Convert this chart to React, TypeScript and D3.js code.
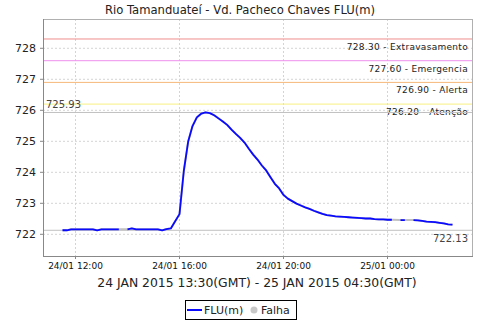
import React from "react";
import * as d3 from "d3";

const title = "Rio Tamanduateí - Vd. Pacheco Chaves FLU(m)";
const xTitle = "24 JAN 2015 13:30(GMT) - 25 JAN 2015 04:30(GMT)";

const times = [
  "24 11:30","24 11:40","24 11:50","24 12:00","24 12:10","24 12:20","24 12:30","24 12:40","24 12:50",
  "24 13:00","24 13:10","24 13:20","24 13:30","24 13:40","24 13:50","24 14:00","24 14:10","24 14:20",
  "24 14:30","24 14:40","24 14:50","24 15:00","24 15:10","24 15:20","24 15:30","24 15:40","24 15:50",
  "24 16:00","24 16:10","24 16:20","24 16:30","24 16:40","24 16:50","24 17:00","24 17:10","24 17:20",
  "24 17:30","24 17:40","24 17:50","24 18:00","24 18:10","24 18:20","24 18:30","24 18:40","24 18:50",
  "24 19:00","24 19:10","24 19:20","24 19:30","24 19:40","24 19:50","24 20:00","24 20:10","24 20:20",
  "24 20:30","24 20:40","24 20:50","24 21:00","24 21:10","24 21:20","24 21:30","24 21:40","24 21:50",
  "24 22:00","24 22:10","24 22:20","24 22:30","24 22:40","24 22:50","24 23:00","24 23:10","24 23:20",
  "24 23:30","24 23:40","24 23:50","25 00:00","25 00:10","25 00:20","25 00:30","25 00:40","25 00:50",
  "25 01:00","25 01:10","25 01:20","25 01:30","25 01:40","25 01:50","25 02:00","25 02:10","25 02:20",
  "25 02:30",
];

const levels: (number | null)[] = [
  722.13, 722.13, 722.16, 722.16, 722.16, 722.16, 722.16, 722.16, 722.13,
  722.16, 722.16, 722.16, 722.16, 722.16, null, 722.16, 722.19, 722.16,
  722.16, 722.16, 722.16, 722.16, 722.16, 722.13, 722.17, 722.19, 722.42,
  722.65, 724.05, 724.99, 725.49, 725.77, 725.89, 725.93, 725.91, 725.84,
  725.74, 725.64, 725.53, 725.38, 725.24, 725.11, 724.96, 724.76, 724.57,
  724.41, 724.22, 724.06, 723.84, 723.63, 723.48, 723.27, 723.15, 723.07,
  722.99, 722.93, 722.87, 722.82, 722.76, 722.71, 722.66, 722.62, 722.6,
  722.58, 722.57, 722.56, 722.55, 722.54, 722.53, 722.52, 722.51, 722.51,
  722.49, 722.48, 722.48, 722.47, 722.47, null, 722.46, 722.46, null,
  722.46, 722.45, 722.43, 722.41, 722.4, 722.39, 722.37, 722.35, 722.32,
  722.31,
];

const thresholdValues = [728.3, 727.6, 726.9, 726.2];
const thresholdNames = ["Extravasamento", "Emergencia", "Alerta", "Atenção"];
const thresholdColors = ["#f08c8c", "#ee90ee", "#f5b87a", "#f8f080"];

const maxValue = 725.93;
const minValue = 722.13;

const yTicks = [722, 723, 724, 725, 726, 727, 728];

function parseTime(s: string): Date {
  const day = +s.slice(0, 2);
  const hh = +s.slice(3, 5);
  const mm = +s.slice(6, 8);
  return new Date(Date.UTC(2015, 0, day, hh, mm));
}

const W = 480;
const H = 320;
const L = 43, R = 472, T = 19, B = 256;
const FONT = "DejaVu Sans, sans-serif";

export default function App() {
  const x = d3
    .scaleUtc()
    .domain([new Date(Date.UTC(2015, 0, 24, 10, 45)), new Date(Date.UTC(2015, 0, 25, 3, 15))])
    .range([L, R]);
  const y = d3.scaleLinear().domain([721.3, 728.945]).range([B, T]);

  const pts = times.map((t, i) => ({ t: parseTime(t), v: levels[i] }));
  const valid = pts.filter((p) => p.v !== null);

  const line = d3
    .line<{ t: Date; v: number | null }>()
    .defined((d) => d.v !== null)
    .x((d) => x(d.t))
    .y((d) => y(d.v as number));

  const xTicks = x.ticks(d3.utcHour.every(4) as any);
  const fmt = d3.utcFormat("%d/%m %H:%M");

  return (
    <svg width={W} height={H} style={{ position: "absolute", left: 0, top: 0, background: "#fff" }}>
      <rect x={0} y={0} width={W} height={H} fill="#fff" />
      <text x={240} y={14} textAnchor="middle" fontFamily={FONT} fontSize={11.6} fill="#222">
        {title}
      </text>
      {/* grid */}
      {yTicks.map((v) => (
        <line key={"gy" + v} x1={L} x2={R} y1={y(v)} y2={y(v)} stroke="#d4d4d4" strokeDasharray="2,2" />
      ))}
      {xTicks.map((d, i) => (
        <line key={"gx" + i} x1={x(d)} x2={x(d)} y1={T} y2={B} stroke="#d4d4d4" strokeDasharray="2,2" />
      ))}
      {/* border */}
      <line x1={L} x2={R} y1={T + 0.5} y2={T + 0.5} stroke="#b0b0b0" />
      <line x1={R + 0.5} x2={R + 0.5} y1={T} y2={B} stroke="#b0b0b0" />
      {/* thresholds */}
      {thresholdValues.map((v, i) => (
        <g key={"th" + i}>
          <line x1={L} x2={R} y1={y(v)} y2={y(v)} stroke={thresholdColors[i]} strokeWidth={1} />
          <text x={468} y={y(v) + 11} textAnchor="end" fontFamily={FONT} fontSize={9} fill="#222" letterSpacing={0.3}>
            {v.toFixed(2) + " - " + thresholdNames[i]}
          </text>
        </g>
      ))}
      {/* max/min */}
      <line x1={L} x2={R} y1={y(maxValue)} y2={y(maxValue)} stroke="#c0c0c0" strokeWidth={1} />
      <text x={46} y={y(maxValue) - 4.5} fontFamily={FONT} fontSize={10} fill="#444">
        {maxValue.toFixed(2)}
      </text>
      <line x1={L} x2={R} y1={y(minValue)} y2={y(minValue)} stroke="#c0c0c0" strokeWidth={1} />
      <text x={468} y={y(minValue) + 11.5} textAnchor="end" fontFamily={FONT} fontSize={10} fill="#444">
        {minValue.toFixed(2)}
      </text>
      {/* series */}
      <path d={line(valid) || ""} fill="none" stroke="#c0c0c0" strokeWidth={2} />
      <path d={line(pts) || ""} fill="none" stroke="#0a0aff" strokeWidth={1.8} strokeLinejoin="round" />
      {/* axes */}
      <line x1={L + 0.5} x2={L + 0.5} y1={T} y2={B} stroke="#888" />
      <line x1={L} x2={R + 1} y1={B + 0.5} y2={B + 0.5} stroke="#888" />
      {yTicks.map((v) => (
        <g key={"yt" + v}>
          <line x1={L - 3} x2={L} y1={y(v)} y2={y(v)} stroke="#888" />
          <text x={36} y={y(v) + 4} textAnchor="end" fontFamily={FONT} fontSize={11} fill="#222">
            {v}
          </text>
        </g>
      ))}
      {xTicks.map((d, i) => (
        <g key={"xt" + i}>
          <line x1={x(d)} x2={x(d)} y1={B} y2={B + 3} stroke="#888" />
          <text x={x(d)} y={269} textAnchor="middle" fontFamily={FONT} fontSize={9} fill="#111">
            {fmt(d)}
          </text>
        </g>
      ))}
      <text x={257} y={287} textAnchor="middle" fontFamily={FONT} fontSize={12.4} fill="#222">
        {xTitle}
      </text>
      {/* legend */}
      <rect x={185.5} y={300.5} width={111} height={19} fill="#fff" stroke="#000" />
      <line x1={187} x2={202} y1={310} y2={310} stroke="#0a0aff" strokeWidth={2} />
      <text x={204} y={314} fontFamily={FONT} fontSize={11} fill="#222">
        FLU(m)
      </text>
      <circle cx={254} cy={310} r={3.5} fill="#c8c8c8" />
      <text x={261} y={314} fontFamily={FONT} fontSize={11} fill="#222">
        Falha
      </text>
    </svg>
  );
}
